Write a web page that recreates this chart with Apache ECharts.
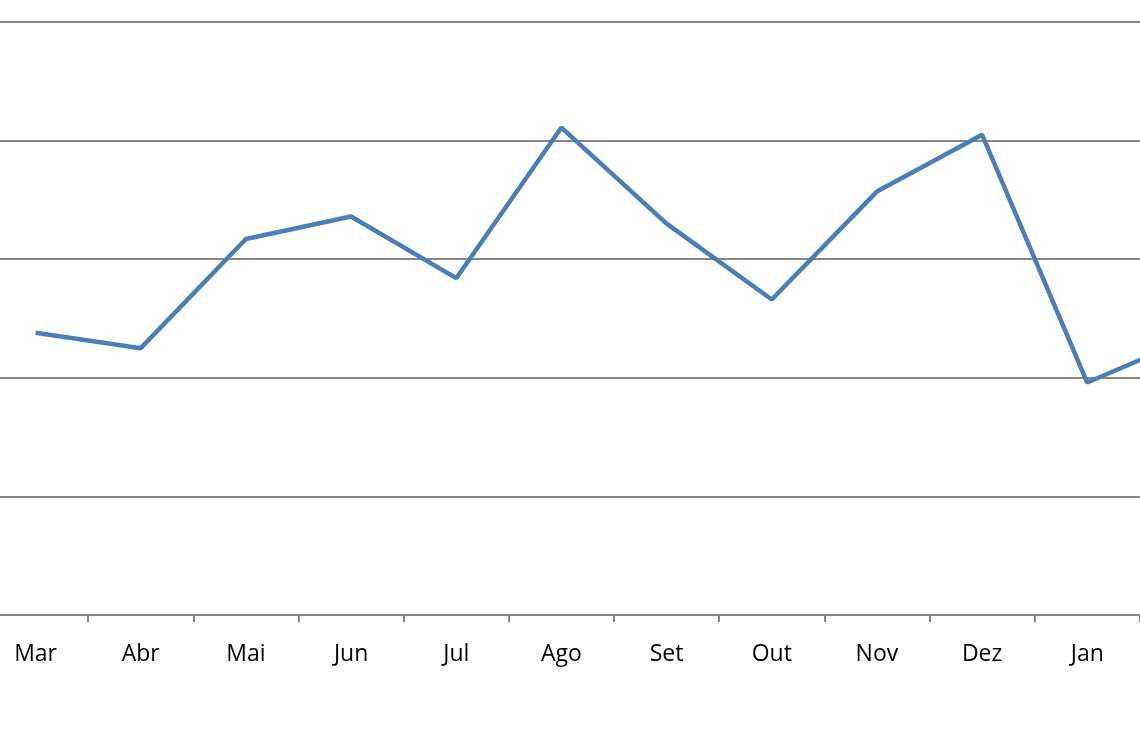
<!DOCTYPE html>
<html><head><meta charset="utf-8">
<script src="https://cdn.jsdelivr.net/npm/echarts@6/dist/echarts.min.js"></script>
<style>html,body{margin:0;padding:0;width:1140px;height:743px;overflow:hidden;background:#fff;position:relative}
#c{position:absolute;left:-17px;top:0;width:1262px;height:743px}</style>
</head><body><div id="c"></div>
<script>
const categories = ['Mar','Abr','Mai','Jun','Jul','Ago','Set','Out','Nov','Dez','Jan','Fev'];
const values = [23.8, 22.5, 31.7, 33.6, 28.4, 41.1, 33.0, 26.6, 35.7, 40.5, 19.6, 23.4];
const chart = echarts.init(document.getElementById('c'), null, {renderer:'canvas'});
chart.setOption({
  animation:false,
  grid:{left:0,right:0,top:22,bottom:128,containLabel:false},
  xAxis:{type:'category',data:categories,boundaryGap:true,
    axisLine:{lineStyle:{color:'#868686',width:2}},
    axisTick:{show:true,length:7,lineStyle:{color:'#868686',width:2}},
    axisLabel:{color:'#000',fontFamily:'Open Sans',fontSize:23,margin:28}},
  yAxis:{type:'value',min:0,max:50,interval:10,
    axisLine:{show:false},axisTick:{show:false},axisLabel:{show:false},
    splitLine:{lineStyle:{color:'#868686',width:2}}},
  series:[{type:'line',data:values,symbol:'none',
    lineStyle:{color:'#4a7ebb',width:4.5}}]
});
</script></body></html>
